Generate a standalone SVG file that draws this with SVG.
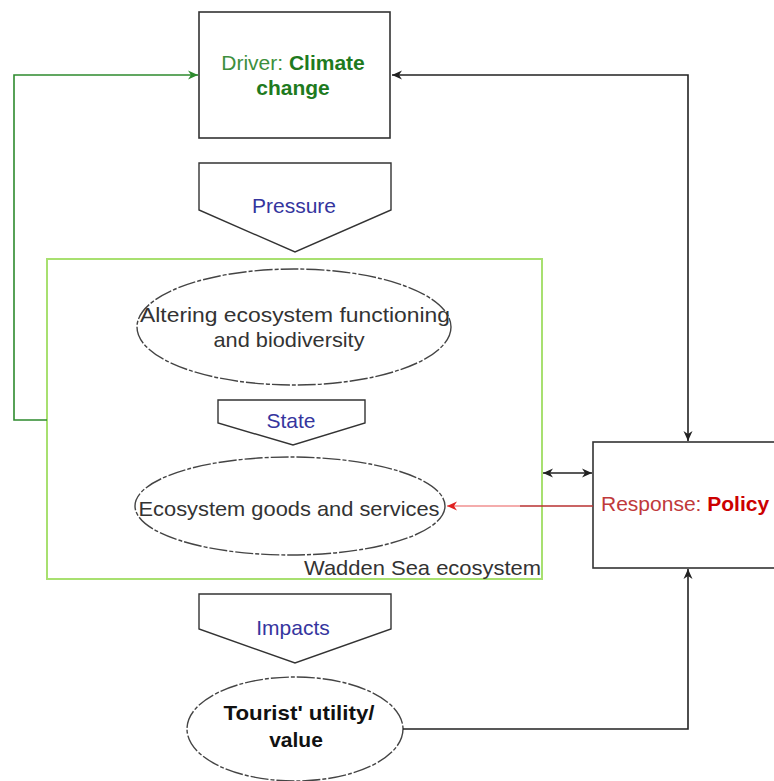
<svg xmlns="http://www.w3.org/2000/svg" width="774" height="781" viewBox="0 0 774 781">
<style>
text{font-family:"Liberation Sans",Arial,sans-serif;font-size:21px}
.box{fill:#fff;stroke:#333;stroke-width:1.6}
.pent{fill:#fff;stroke:#333;stroke-width:1.4}
.ell{fill:#fff;stroke:#444;stroke-width:1.4;stroke-dasharray:18 2 4 2}
.blue{fill:#35359e}
.c{stroke:#222;stroke-width:1.6;fill:none}
</style>
<defs>
<marker id="ab" markerUnits="userSpaceOnUse" markerWidth="12" markerHeight="12" refX="11" refY="6" orient="auto-start-reverse"><path d="M1,1.5 L11,6 L1,10.5 L4,6 Z" fill="#222"/></marker>
<marker id="ag" markerUnits="userSpaceOnUse" markerWidth="12" markerHeight="12" refX="11" refY="6" orient="auto"><path d="M1,1.5 L11,6 L1,10.5 L4,6 Z" fill="#2e8b2e"/></marker>
<marker id="ar" markerUnits="userSpaceOnUse" markerWidth="12" markerHeight="12" refX="11" refY="6" orient="auto"><path d="M1,1.5 L11,6 L1,10.5 L4,6 Z" fill="#e02020"/></marker>
</defs>
<g id="wadden-sea">
<rect x="47" y="259" width="495" height="320" fill="none" stroke="#a8e070" stroke-width="2"/>
<text x="541" y="575" text-anchor="end" fill="#333" textLength="237" lengthAdjust="spacingAndGlyphs">Wadden Sea ecosystem</text>
</g>
<g id="driver">
<rect class="box" x="199" y="12" width="191" height="126"/>
<text x="293" y="70" text-anchor="middle"><tspan fill="#3d8f3d">Driver: </tspan><tspan fill="#1e7a1e" font-weight="bold">Climate</tspan></text>
<text x="293" y="95" text-anchor="middle" fill="#1e7a1e" font-weight="bold">change</text>
</g>
<g id="pressure">
<path class="pent" d="M199,163 H391 V210 L295,252 L199,210 Z"/>
<text x="294" y="213" text-anchor="middle" class="blue">Pressure</text>
</g>
<g id="altering">
<ellipse class="ell" cx="294" cy="327" rx="157" ry="58"/>
<text x="295" y="322" text-anchor="middle" fill="#333" textLength="310" lengthAdjust="spacingAndGlyphs">Altering ecosystem functioning</text>
<text x="289" y="347" text-anchor="middle" fill="#333" textLength="151" lengthAdjust="spacingAndGlyphs">and biodiversity</text>
</g>
<g id="state">
<path class="pent" d="M218,400 H365 V423 L293,445 L218,423 Z"/>
<text x="291" y="428" text-anchor="middle" class="blue">State</text>
</g>
<g id="goods">
<ellipse class="ell" cx="290" cy="506" rx="155" ry="49"/>
<text x="289" y="516" text-anchor="middle" fill="#333" textLength="301" lengthAdjust="spacingAndGlyphs">Ecosystem goods and services</text>
</g>
<g id="impacts">
<path class="pent" d="M199,594 H391 V629 L295,663 L199,629 Z"/>
<text x="293" y="635" text-anchor="middle" class="blue">Impacts</text>
</g>
<g id="tourist">
<ellipse class="ell" cx="295" cy="729" rx="108" ry="52"/>
<text x="299" y="720" text-anchor="middle" fill="#111" font-weight="bold" font-size="20" textLength="151" lengthAdjust="spacingAndGlyphs">Tourist' utility/</text>
<text x="296" y="747" text-anchor="middle" fill="#111" font-weight="bold" font-size="20">value</text>
</g>
<g id="response">
<rect class="box" x="593" y="442" width="190" height="126"/>
<text x="601" y="511"><tspan fill="#c0393b">Response: </tspan><tspan fill="#cc0000" font-weight="bold">Policy</tspan></text>
</g>
<g id="connectors">
<path d="M47,420 H14 V75 H198" fill="none" stroke="#2e8b2e" stroke-width="1.6" marker-end="url(#ag)"/>
<path class="c" d="M392,75 H688 V441" marker-start="url(#ab)" marker-end="url(#ab)"/>
<path class="c" d="M403,729 H688 V569" marker-end="url(#ab)"/>
<path class="c" d="M543,473 H592" marker-start="url(#ab)" marker-end="url(#ab)"/>
<path d="M593,506 H520" stroke="#b83030" stroke-width="1.6" fill="none"/>
<path d="M520,506 H447" stroke="#f09090" stroke-width="1.6" fill="none" marker-end="url(#ar)"/>
</g>
</svg>
